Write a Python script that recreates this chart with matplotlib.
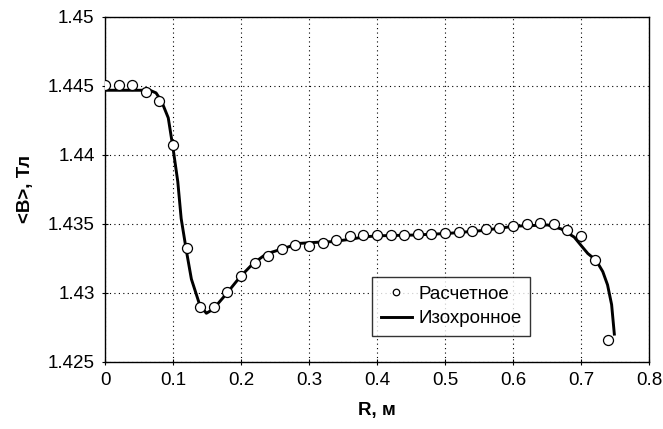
import matplotlib
matplotlib.use("Agg")
import matplotlib.pyplot as plt

plt.rcParams['font.family'] = ['Liberation Sans', 'DejaVu Sans']

# Calculated points (circles)
r_calc = [0.0, 0.02, 0.04, 0.06, 0.08, 0.10, 0.12, 0.14, 0.16, 0.18,
          0.20, 0.22, 0.24, 0.26, 0.28, 0.30, 0.32, 0.34, 0.36, 0.38,
          0.40, 0.42, 0.44, 0.46, 0.48, 0.50, 0.52, 0.54, 0.56, 0.58,
          0.60, 0.62, 0.64, 0.66, 0.68, 0.70, 0.72, 0.74]
b_calc = [1.44505, 1.44505, 1.44505, 1.44458, 1.44391, 1.44074, 1.43327, 1.42901, 1.42901, 1.43004,
          1.43120, 1.43218, 1.43269, 1.43320, 1.43348, 1.43343, 1.43359, 1.43384, 1.43413, 1.43420,
          1.43420, 1.43420, 1.43420, 1.43425, 1.43425, 1.43432, 1.43444, 1.43449, 1.43463, 1.43470,
          1.43488, 1.43500, 1.43507, 1.43500, 1.43459, 1.43416, 1.43238, 1.42659]

# Isochronous curve (line)
r_iso = [0.0, 0.066, 0.075, 0.083, 0.093, 0.100, 0.107, 0.112, 0.120, 0.127,
         0.139, 0.149, 0.159, 0.178, 0.198, 0.217, 0.237, 0.261, 0.285, 0.310,
         0.334, 0.359, 0.383, 0.407, 0.456, 0.505, 0.554, 0.602, 0.651, 0.671,
         0.690, 0.700, 0.710, 0.722, 0.732, 0.739, 0.745, 0.749]
b_iso = [1.44469, 1.44469, 1.44450, 1.44391, 1.44269, 1.44050, 1.43807, 1.43539, 1.43296, 1.43101,
         1.42918, 1.42853, 1.42882, 1.42991, 1.43113, 1.43210, 1.43283, 1.43320, 1.43359, 1.43367,
         1.43372, 1.43388, 1.43408, 1.43415, 1.43420, 1.43432, 1.43452, 1.43484, 1.43493, 1.43464,
         1.43405, 1.43345, 1.43286, 1.43238, 1.43155, 1.43059, 1.42916, 1.42702]

x_ticks = [0, 0.1, 0.2, 0.3, 0.4, 0.5, 0.6, 0.7, 0.8]
x_labels = ['0', '0.1', '0.2', '0.3', '0.4', '0.5', '0.6', '0.7', '0.8']
y_ticks = [1.425, 1.43, 1.435, 1.44, 1.445, 1.45]
y_labels = ['1.425', '1.43', '1.435', '1.44', '1.445', '1.45']

fig = plt.figure(figsize=(6.63, 4.29), dpi=100)
ax = fig.add_axes([0.1584, 0.1562, 0.8205, 0.8042])

ax.plot(r_calc, b_calc, linestyle='none', marker='o', markersize=7.2,
        markerfacecolor='white', markeredgecolor='black', markeredgewidth=0.9,
        label='Расчетное', zorder=3)
ax.plot(r_iso, b_iso, color='black', linewidth=2.1, label='Изохронное', zorder=2)

ax.set_xlim(0, 0.8)
ax.set_ylim(1.425, 1.45)
ax.set_xticks(x_ticks)
ax.set_xticklabels(x_labels)
ax.set_yticks(y_ticks)
ax.set_yticklabels(y_labels)
ax.tick_params(direction='inout', length=5, width=0.8, labelsize=13.5, pad=5)

ax.grid(True, color='black', linestyle=(0, (1, 3)), linewidth=0.8)
for s in ax.spines.values():
    s.set_linewidth(1.0)
    s.set_color('black')

ax.set_xlabel('R, м', fontsize=13.5, fontweight='bold', labelpad=9)
ax.set_ylabel('<B>, Тл', fontsize=13.5, fontweight='bold', labelpad=10)

leg = ax.legend(loc='upper left', bbox_to_anchor=(0.491, 0.246),
                borderaxespad=0, fontsize=13.5, frameon=True, fancybox=False,
                edgecolor='black', markerscale=0.65, handlelength=1.7,
                handletextpad=0.3, borderpad=0.45, labelspacing=0.4)
leg.get_frame().set_linewidth(1.0)

fig.savefig('out.png', dpi=100)
